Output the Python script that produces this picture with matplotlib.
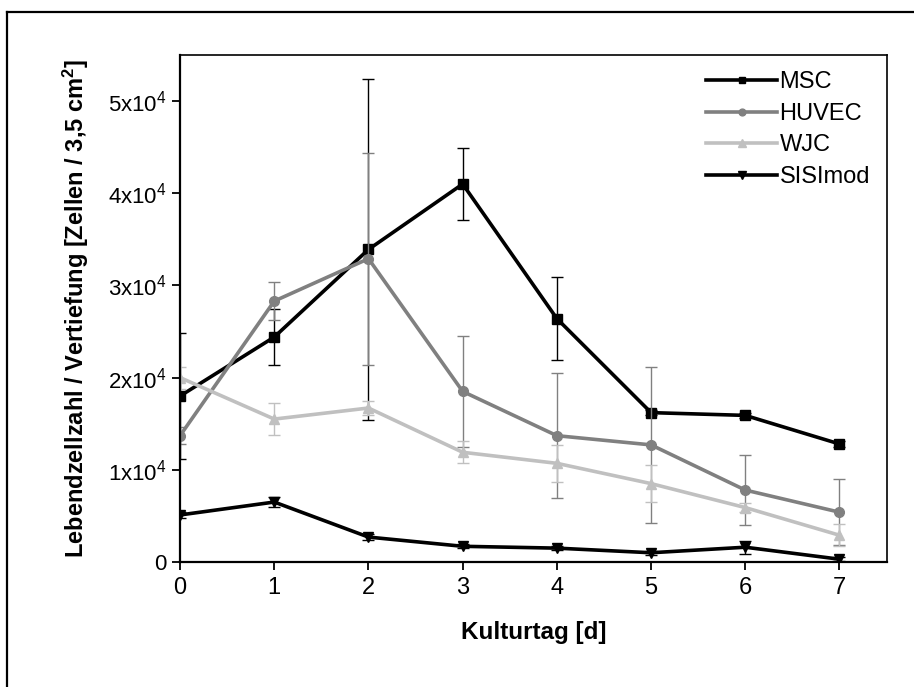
import matplotlib
matplotlib.use("Agg")
import matplotlib.pyplot as plt
from matplotlib.lines import Line2D
from matplotlib.ticker import FixedLocator, FixedFormatter

plt.rcParams["font.family"] = ["Liberation Sans", "DejaVu Sans"]
plt.rcParams["mathtext.fontset"] = "custom"
plt.rcParams["mathtext.rm"] = "Liberation Sans"
plt.rcParams["mathtext.bf"] = "Liberation Sans:bold"

# ---- data (cells per well, x1e4) ----
days = [0, 1, 2, 3, 4, 5, 6, 7]
msc       = [1.80, 2.44, 3.39, 4.10, 2.64, 1.62, 1.59, 1.28]
msc_err   = [0.68, 0.30, 1.85, 0.39, 0.45, 0.03, 0.03, 0.03]
huvec     = [1.37, 2.83, 3.29, 1.85, 1.37, 1.27, 0.78, 0.54]
huvec_err = [0.09, 0.21, 1.15, 0.60, 0.68, 0.85, 0.38, 0.36]
wjc       = [2.00, 1.55, 1.67, 1.19, 1.07, 0.85, 0.59, 0.29]
wjc_err   = [0.12, 0.17, 0.08, 0.12, 0.20, 0.20, 0.05, 0.12]
sisi      = [0.51, 0.65, 0.27, 0.17, 0.15, 0.10, 0.16, 0.03]
sisi_err  = [0.03, 0.05, 0.03, 0.02, 0.02, 0.02, 0.07, 0.02]

ytick_vals = [0, 1e4, 2e4, 3e4, 4e4, 5e4]
ytick_labels = ["0", "1x10$^4$", "2x10$^4$", "3x10$^4$", "4x10$^4$", "5x10$^4$"]

series = [
    ("MSC",      msc,   msc_err,   "#000000", "s", 7.0),
    ("HUVEC",    huvec, huvec_err, "#808080", "o", 7.0),
    ("WJC",      wjc,   wjc_err,   "#c0c0c0", "^", 7.5),
    ("SISImod",  sisi,  sisi_err,  "#000000", "v", 7.5),
]

fig = plt.figure(figsize=(9.14, 6.87), dpi=100)
ax = fig.add_axes([0.197, 0.182, 0.773, 0.738])

handles = []
for name, vals, err, col, mk, ms in series:
    y = [v * 1e4 for v in vals]
    e = [v * 1e4 for v in err]
    ax.errorbar(days, y, yerr=e, fmt="none", ecolor=col, elinewidth=1.0,
                capsize=4.5, capthick=1.0)
    ln, = ax.plot(days, y, color=col, marker=mk, markersize=ms,
                  linewidth=2.6, label=name)
    handles.append(ln)

ax.set_xlim(0, 7.5)
ax.set_ylim(0, 5.5e4)
ax.set_xticks(days)
ax.yaxis.set_major_locator(FixedLocator(ytick_vals))
ax.yaxis.set_major_formatter(FixedFormatter(ytick_labels))
ax.tick_params(axis="x", direction="out", length=6, width=1.3, labelsize=17, pad=5)
ax.tick_params(axis="y", direction="out", length=6, width=1.3, labelsize=16, pad=4)
for sp in ["left", "bottom"]:
    ax.spines[sp].set_linewidth(1.6)
for sp in ["top", "right"]:
    ax.spines[sp].set_linewidth(1.2)

ax.set_xlabel("Kulturtag [d]", fontsize=17.5, fontweight="bold", labelpad=16)
ax.set_ylabel(r"Lebendzellzahl / Vertiefung [Zellen / 3,5 cm$\mathbf{^2}$]",
              fontsize=17, fontweight="bold", labelpad=12)

ax.legend(handles=handles, loc="upper right", frameon=False, fontsize=17,
          handlelength=3.0, handletextpad=0.1, labelspacing=0.4,
          markerscale=0.7, borderaxespad=0.3)

# partial outer frame of the figure (left and top edges)
fig.add_artist(Line2D([7 / 914, 7 / 914], [0, 1 - 12 / 687], color="black",
                      linewidth=1.6, transform=fig.transFigure))
fig.add_artist(Line2D([7 / 914, 1], [1 - 12 / 687, 1 - 12 / 687], color="black",
                      linewidth=1.6, transform=fig.transFigure))

fig.savefig("out.png", dpi=100)
